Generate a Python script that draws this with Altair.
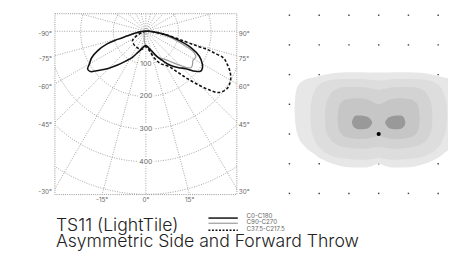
import math
import numpy as np
import pandas as pd
import altair as alt

# ---------------- data: polar intensity curves (deg from nadir, cd) ----------------
c0_ang = [-180, -90, -85, -80, -76, -74, -72, -68, -64, -60, -57, -54, -50, -45, -40, -34, -28, -24, -18, -12, -6,
          0, 6, 12, 18, 24, 30, 36, 42, 47, 51, 54, 57, 60, 65, 70, 75, 80, 85, 90, 180]
c0_cd = [0, 5, 20, 35, 60, 90, 125, 160, 185, 200, 213, 210, 186, 160, 135, 110, 92, 78, 63, 52, 46,
         44, 47, 55, 66, 85, 105, 130, 150, 168, 195, 208, 207, 200, 181, 148, 102, 65, 30, 10, 0]

c90_ang = [-180, -90, -60, -40, -20, -10, -5, 0, 8, 16, 25, 34, 44, 51, 55, 58, 63, 67, 70, 75, 80, 85, 90, 180]
c90_cd = [0, 3, 6, 8, 15, 28, 38, 45, 50, 69, 88, 104, 142, 178, 175, 170, 172, 156, 125, 85, 48, 22, 8, 0]

c37_ang = [-180, -75, -65, -55, -45, -35, -25, -15, -7, 0, 10, 18, 25, 33, 38, 41, 44, 47, 50, 55, 60, 64, 68,
           71, 72.5, 73.5, 74, 75.5, 80, 85, 90, 180]
c37_cd = [0, 10, 30, 50, 54, 56, 57, 58, 52, 47, 60, 88, 110, 128, 160, 190, 225, 262, 292, 305, 300, 288, 269,
          252, 219, 197, 166, 123, 65, 30, 10, 0]

ring_vals = [100, 200, 300, 400, 500]
ring_labels = ["100", "200", "300", "400"]
left_angles = [-90, -75, -60, -45, -30]
right_angles = [90, 75, 60, 45, 30]
bottom_angles = [-15, 0, 15]

series_labels = ["C0-C180", "C90-C270", "C37.5-C217.5"]
title_lines = ["TS11 (LightTile)", "Asymmetric Side and Forward Throw"]

# ---------------- data: isolux diagram ----------------
dot_x = [-3, -2, -1, 0, 1, 2]
dot_y = [-2, -1, 0, 1, 2, 3, 4]

# left halves (x from outer edge to centre), mirrored about x = 0
l1_x = [-2.83, -2.8, -2.7, -2.5, -2.2, -2.0, -1.8, -1.5, -1.0, -0.5, -0.2, 0.0]
l1_top = [0.85, 1.3, 1.65, 1.82, 1.9, 1.95, 2.0, 2.05, 2.08, 2.08, 2.07, 2.07]
l1_bot = [0.85, 0.35, -0.1, -0.4, -0.65, -0.8, -0.9, -1.02, -1.12, -1.13, -1.07, -1.0]

l2_x = [-2.30, -2.27, -2.15, -1.95, -1.6, -1.2, -0.6, -0.2, 0.0]
l2_top = [0.65, 1.05, 1.45, 1.7, 1.82, 1.85, 1.85, 1.82, 1.8]
l2_bot = [0.65, 0.2, -0.2, -0.5, -0.72, -0.82, -0.87, -0.84, -0.8]

l3_x = [-1.81, -1.78, -1.65, -1.45, -1.1, -0.6, -0.2, 0.0]
l3_top = [0.55, 0.95, 1.3, 1.5, 1.58, 1.58, 1.52, 1.48]
l3_bot = [0.55, 0.15, -0.15, -0.33, -0.45, -0.5, -0.46, -0.43]

l4_x = [-1.38, -1.35, -1.25, -1.05, -0.7, -0.35, -0.15, 0.0]
l4_top = [0.5, 0.85, 1.07, 1.17, 1.2, 1.15, 1.05, 1.0]
l4_bot = [0.5, 0.2, 0.0, -0.12, -0.17, -0.15, -0.1, -0.07]

lobe_x = [-0.9, -0.85, -0.75, -0.6, -0.45, -0.32, -0.22]
lobe_top = [0.4, 0.55, 0.62, 0.62, 0.6, 0.55, 0.42]
lobe_bot = [0.4, 0.25, 0.18, 0.16, 0.17, 0.22, 0.35]

# ---------------- layout ----------------
W1, H1 = 186, 185
XD, YD = [-279, 279], [-501, 54]
W2, H2 = 171, 185
XD2, YD2 = [-3.29, 2.33], [-2.04, 4.05]

FONT = "Inter"
GRID = "#7a7a7a"

xs = alt.Scale(domain=XD, nice=False, zero=False)
ys = alt.Scale(domain=YD, nice=False, zero=False)
X = alt.X("x:Q", scale=xs, axis=None)
Y = alt.Y("y:Q", scale=ys, axis=None)

# grid (rays every 15 deg + circles)
rows = []
for k, a in enumerate(range(0, 360, 15)):
    rr = math.radians(a)
    rows.append(dict(g=f"ray{k}", i=0, x=0.0, y=0.0))
    rows.append(dict(g=f"ray{k}", i=1, x=900 * math.sin(rr), y=-900 * math.cos(rr)))
for r in ring_vals:
    for j, t in enumerate(np.linspace(0, 360, 241)):
        tr = math.radians(t)
        rows.append(dict(g=f"c{r}", i=j, x=r * math.sin(tr), y=-r * math.cos(tr)))
grid_df = pd.DataFrame(rows)

grid = alt.Chart(grid_df).mark_line(stroke=GRID, strokeWidth=0.7, strokeDash=[1, 1.5], clip=True).encode(
    x=X, y=Y, detail="g:N", order="i:Q")

box = alt.Chart(pd.DataFrame({"k": [0]})).mark_rect(
    filled=False, stroke=GRID, strokeWidth=0.8, strokeDash=[1, 1.2]).encode(
    x=alt.value(0), x2=alt.value(W1), y=alt.value(0), y2=alt.value(H1))

ring_df = pd.DataFrame({"t": ring_labels, "x": [0.0] * len(ring_labels),
                        "y": [-float(v) for v in ring_vals[:len(ring_labels)]]})
ring_halo = alt.Chart(ring_df).mark_text(font=FONT, fontSize=7, color="white", stroke="white", strokeWidth=4,
                                         baseline="middle").encode(x=X, y=Y, text="t:N")
ring_txt = alt.Chart(ring_df).mark_text(font=FONT, fontSize=7, color="#666666", baseline="middle").encode(
    x=X, y=Y, text="t:N")

# angle labels at the points where the rays meet the frame
lab = []
for a in left_angles:
    ar = math.radians(a)
    t = XD[0] / math.sin(ar)
    lab.append(dict(t=f"{a}°", x=XD[0], y=-math.cos(ar) * t))
left_df = pd.DataFrame(lab)
lab = []
for a in right_angles:
    ar = math.radians(a)
    t = XD[1] / math.sin(ar)
    lab.append(dict(t=f"{a}°", x=XD[1], y=-math.cos(ar) * t))
right_df = pd.DataFrame(lab)
lab = []
for a in bottom_angles:
    ar = math.radians(a)
    t = -YD[0] / math.cos(ar)
    lab.append(dict(t=f"{a}°", x=math.sin(ar) * t, y=YD[0]))
bottom_df = pd.DataFrame(lab)

lab_style = dict(font=FONT, fontSize=6.5, color="#666666")
left_lab = alt.Chart(left_df).mark_text(align="right", baseline="middle", dx=-3, dy=3, **lab_style).encode(
    x=X, y=Y, text="t:N")
right_lab = alt.Chart(right_df).mark_text(align="left", baseline="middle", dx=2, dy=3, **lab_style).encode(
    x=X, y=Y, text="t:N")
bottom_lab = alt.Chart(bottom_df).mark_text(align="center", baseline="middle", dy=6, **lab_style).encode(
    x=X, y=Y, text="t:N")


def curve(ang, cd, **style):
    df = pd.DataFrame({"ang": ang, "cd": cd, "i": range(len(ang))})
    return alt.Chart(df).transform_calculate(
        x="datum.cd * sin(datum.ang * PI / 180)",
        y="-datum.cd * cos(datum.ang * PI / 180)",
    ).mark_line(interpolate="catmull-rom", clip=True, **style).encode(x=X, y=Y, order="i:Q")


c90 = curve(c90_ang, c90_cd, stroke="#9a9a9a", strokeWidth=1.2)
c0 = curve(c0_ang, c0_cd, stroke="#111", strokeWidth=1.6)
c37 = curve(c37_ang, c37_cd, stroke="#111", strokeWidth=1.6, strokeDash=[3, 2])

# legend + title (layout positions in pixels)
leg_y = [209, 214.3, 221.5]
leg_txt_y = [206.5, 213.2, 220.6]
leg_styles = [dict(stroke="#111", strokeWidth=1.5), dict(stroke="#9a9a9a", strokeWidth=1.2),
              dict(stroke="#111", strokeWidth=1.6, strokeDash=[2, 1.6])]
legend_layers = []
for lbl, yy, ty, st in zip(series_labels, leg_y, leg_txt_y, leg_styles):
    d = pd.DataFrame({"t": [lbl]})
    legend_layers.append(alt.Chart(d).mark_rule(**st).encode(
        x=alt.value(157), x2=alt.value(187), y=alt.value(yy)))
    legend_layers.append(alt.Chart(d).mark_text(font=FONT, fontSize=6.3, color="#666666", align="left",
                                                baseline="middle").encode(
        x=alt.value(196), y=alt.value(ty), text="t:N"))

title_layers = []
for line, yy in zip(title_lines, [222, 238.5]):
    title_layers.append(alt.Chart(pd.DataFrame({"t": [line]})).mark_text(
        font=FONT, fontSize=18, fontWeight=300, color="#222", align="left", baseline="alphabetic").encode(
        x=alt.value(1), y=alt.value(yy), text="t:N"))

left = alt.layer(grid, box, ring_halo, ring_txt, left_lab, right_lab, bottom_lab, c90, c0, c37,
                 *legend_layers, *title_layers).properties(width=W1, height=H1)

# ---------------- isolux panel ----------------
xs2 = alt.Scale(domain=XD2, nice=False, zero=False)
ys2 = alt.Scale(domain=YD2, nice=False, zero=False)


def mirror(hx, ht, hb):
    fx = list(hx) + [-v for v in reversed(hx[:-1])]
    ft = list(ht) + list(reversed(ht[:-1]))
    fb = list(hb) + list(reversed(hb[:-1]))
    return fx, ft, fb


def blob(x, top, bot, color):
    df = pd.DataFrame({"x": x, "top": top, "bot": bot})
    return alt.Chart(df).mark_area(color=color, orient="vertical", interpolate="monotone", clip=True).encode(
        x=alt.X("x:Q", scale=xs2, axis=None),
        y=alt.Y("top:Q", scale=ys2, axis=None),
        y2="bot:Q")


dots_df = pd.DataFrame([(a, b) for a in dot_x for b in dot_y], columns=["x", "y"])
dots = alt.Chart(dots_df).mark_square(size=2.2, color="#444", opacity=1).encode(
    x=alt.X("x:Q", scale=xs2, axis=None), y=alt.Y("y:Q", scale=ys2, axis=None))

b1 = blob(*mirror(l1_x, l1_top, l1_bot), "#e7e7e7")
b2 = blob(*mirror(l2_x, l2_top, l2_bot), "#dddddd")
b3 = blob(*mirror(l3_x, l3_top, l3_bot), "#d3d3d3")
b4 = blob(*mirror(l4_x, l4_top, l4_bot), "#c6c6c6")
lobeL = blob(lobe_x, lobe_top, lobe_bot, "#999999")
lobeR = blob([-v for v in reversed(lobe_x)], list(reversed(lobe_top)), list(reversed(lobe_bot)), "#999999")

centre = alt.Chart(pd.DataFrame({"x": [0], "y": [0]})).mark_circle(size=18, color="#000", opacity=1).encode(
    x=alt.X("x:Q", scale=xs2, axis=None), y=alt.Y("y:Q", scale=ys2, axis=None))

right = alt.layer(dots, b1, b2, b3, b4, lobeL, lobeR, centre).properties(width=W2, height=H2)

chart = alt.hconcat(left, right, spacing=45, bounds="flush").properties(
    padding={"left": 30, "top": 2, "right": 0, "bottom": 4},
).configure_view(strokeWidth=0)

chart.save("out.html", embed_options={"renderer": "svg", "actions": False})
